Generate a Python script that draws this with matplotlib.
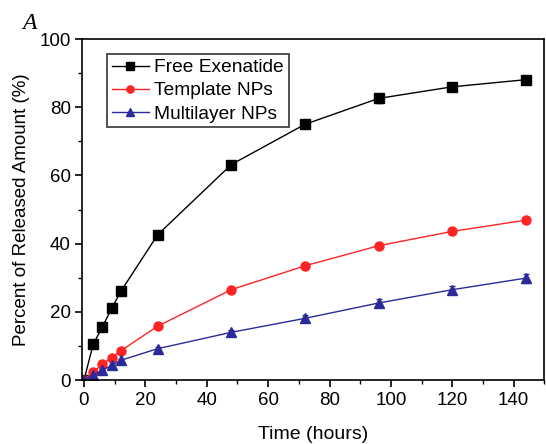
import numpy as np
import matplotlib.pyplot as plt
from matplotlib.ticker import MultipleLocator

plt.rcParams['font.family'] = ['Liberation Sans', 'DejaVu Sans']

# release data (time in hours, released %)
time_h = [0, 3, 6, 9, 12, 24, 48, 72, 96, 120, 144]
free_exenatide = [0, 10.5, 15.6, 21.0, 26.0, 42.6, 63.2, 75.0, 82.6, 86.0, 88.1]
free_err = [0, 0.4, 0.5, 0.6, 0.6, 0.7, 0.7, 0.6, 1.3, 0.9, 0.6]
template_nps = [0, 2.4, 4.6, 6.6, 8.6, 15.8, 26.5, 33.5, 39.4, 43.6, 46.9]
template_err = [0, 0.3, 0.3, 0.4, 0.4, 0.5, 0.6, 0.6, 0.6, 0.7, 0.6]
multilayer_nps = [0, 1.5, 2.9, 4.3, 5.8, 9.2, 14.0, 18.1, 22.6, 26.5, 29.9]
multilayer_err = [0, 0.3, 0.4, 0.5, 0.5, 0.6, 0.8, 1.0, 1.2, 1.2, 1.3]

fig = plt.figure(figsize=(5.46, 4.44), dpi=100)
ax = fig.add_axes([0.151, 0.144, 0.846, 0.768])

series = [
    (free_exenatide, free_err, 'black', 's', 'Free Exenatide'),
    (template_nps, template_err, '#ff2424', 'o', 'Template NPs'),
    (multilayer_nps, multilayer_err, '#2a2a9a', '^', 'Multilayer NPs'),
]
handles = []
for vals, err, col, mk, lab in series:
    c = ax.errorbar(time_h, vals, yerr=err, color=col, marker=mk,
                    markersize=6.5, linewidth=1.0, capsize=2.5, elinewidth=0.8,
                    label=lab)
    handles.append(c[0])

ax.set_xlim(-0.5, 150)
ax.set_ylim(0, 100)
ax.xaxis.set_major_locator(MultipleLocator(20))
ax.xaxis.set_minor_locator(MultipleLocator(10))
ax.yaxis.set_major_locator(MultipleLocator(20))
ax.yaxis.set_minor_locator(MultipleLocator(10))
ax.tick_params(which='major', direction='out', length=5, width=1.2, labelsize=13.5)
ax.tick_params(which='minor', direction='out', length=3, width=1.0)
for s in ax.spines.values():
    s.set_linewidth(1.2)

ax.set_xlabel('Time (hours)', fontsize=14, labelpad=12)
ax.set_ylabel('Percent of Released Amount (%)', fontsize=13.5, labelpad=7)

leg = ax.legend(handles, [s[4] for s in series], loc='upper left',
                bbox_to_anchor=(0.054, 0.956), fontsize=13.8,
                frameon=True, fancybox=False, edgecolor='black',
                handlelength=1.9, handletextpad=0.3, borderpad=0.25,
                labelspacing=0.3, borderaxespad=0, markerscale=0.8)
leg.get_frame().set_linewidth(1.2)

fig.text(0.04, 0.935, 'A', fontsize=17, family='Liberation Serif', style='italic')

fig.savefig('out.png', dpi=100)
